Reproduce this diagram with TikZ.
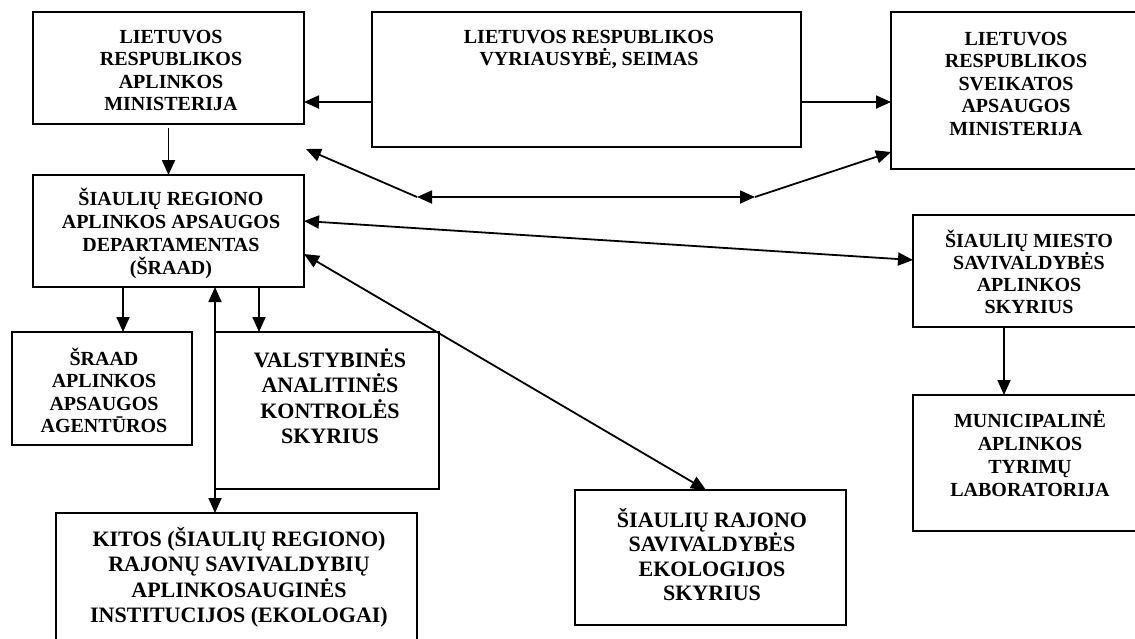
\documentclass[tikz,border=0pt]{standalone}
\usepackage{fontspec}
\setmainfont{Liberation Serif}
\usetikzlibrary{arrows.meta,calc}
\newcommand\firstA{\rule{0pt}{20pt}}
\newcommand\firstB{\rule{0pt}{22pt}}
\begin{document}
\begin{tikzpicture}[x=1pt,y=-1pt,
  box/.style={draw=black, line width=2pt, inner sep=0pt, outer sep=0pt, anchor=north west},
  txt/.style={inner sep=0pt, outer sep=0pt, align=center, anchor=north, font=\bfseries\fontsize{20}{22.5}\selectfont},
  bigtxt/.style={txt, font=\bfseries\fontsize{22}{25.5}\selectfont},
  tip/.tip={Triangle[length=15pt,width=13pt]},
  arr/.style={line width=1.8pt, -tip},
  darr/.style={line width=1.8pt, tip-tip},
]
\useasboundingbox (0,0) rectangle (1135,638);
\clip (0,0) rectangle (1135,638);

% boxes
\node[box, minimum width=271pt, minimum height=112pt] (A) at (33,12) {};
\node[box, minimum width=429pt, minimum height=135pt] (B) at (372,12) {};
\node[box, minimum width=250pt, minimum height=157pt] (C) at (891,12) {};
\node[box, minimum width=271pt, minimum height=112pt] (D) at (33,175) {};
\node[box, minimum width=180pt, minimum height=113pt] (E) at (12,332) {};
\node[box, minimum width=224pt, minimum height=157pt] (F) at (215,332) {};
\node[box, minimum width=361pt, minimum height=147pt] (G) at (56,513) {};
\node[box, minimum width=271pt, minimum height=135pt] (H) at (575,490) {};
\node[box, minimum width=232pt, minimum height=112pt] (I) at (913,215) {};
\node[box, minimum width=232pt, minimum height=136pt] (J) at (913,395) {};

% texts
\node[txt] (tA) at (171,23) {\firstA LIETUVOS\\RESPUBLIKOS\\APLINKOS\\MINISTERIJA};
\node[txt] (tB) at (589,23) {\firstA LIETUVOS RESPUBLIKOS\\VYRIAUSYBĖ, SEIMAS};
\node[txt] (tC) at (1016,25) {\firstA LIETUVOS\\RESPUBLIKOS\\SVEIKATOS\\APSAUGOS\\MINISTERIJA};
\node[txt, font=\bfseries\fontsize{20}{23}\selectfont] (tD) at (171,185) {\firstA ŠIAULIŲ REGIONO\\APLINKOS APSAUGOS\\DEPARTAMENTAS\\(ŠRAAD)};
\node[txt] (tE) at (104,345) {\firstA ŠRAAD\\APLINKOS\\APSAUGOS\\AGENTŪROS};
\node[bigtxt] (tF) at (330,345) {\firstB VALSTYBINĖS\\ANALITINĖS\\KONTROLĖS\\SKYRIUS};
\node[bigtxt] (tG) at (239,524) {\firstB KITOS (ŠIAULIŲ REGIONO)\\RAJONŲ SAVIVALDYBIŲ\\APLINKOSAUGINĖS\\INSTITUCIJOS (EKOLOGAI)};
\node[bigtxt, font=\bfseries\fontsize{22}{24.5}\selectfont] (tH) at (712,505) {\firstB ŠIAULIŲ RAJONO\\SAVIVALDYBĖS\\EKOLOGIJOS\\SKYRIUS};
\node[txt, font=\bfseries\fontsize{20}{22}\selectfont] (tI) at (1029,227) {\firstA ŠIAULIŲ MIESTO\\SAVIVALDYBĖS\\APLINKOS\\SKYRIUS};
\node[txt, font=\bfseries\fontsize{20}{23}\selectfont] (tJ) at (1030,407) {\firstA MUNICIPALINĖ\\APLINKOS\\TYRIMŲ\\LABORATORIJA};

% connectors
\draw[arr] ([yshift=45pt]B.south west) coordinate (b1) -- (b1 -| A.east);
\draw[arr] ([yshift=45pt]B.south east) coordinate (b2) -- (b2 -| C.west);
\draw[arr] ([yshift=-4pt]A.south) -- (A.south |- D.north);

\coordinate (hl) at (417,197);
\coordinate (hr) at (755,197);
\coordinate (ul) at (306,149);
\draw[darr] (hl) -- (hr);
\draw[arr] (hl) -- (ul);
\draw[arr] (hr) -- ([yshift=17pt]C.south west);

\draw[darr] ([yshift=-46pt]D.north east) -- ([yshift=-45pt]I.north west);
\draw[darr] ([yshift=-79pt]D.north east) -- ([xshift=131pt]H.north west);

\draw[arr] ([xshift=90pt]D.south west) coordinate (d1) -- (d1 |- E.north);
\draw[arr] ([xshift=226pt]D.south west) coordinate (d2) -- (d2 |- F.north);
\draw[darr] (F.north west |- D.south) -- (F.north west |- G.north);
\draw[arr] ([xshift=91pt]I.south west) coordinate (i1) -- (i1 |- J.north);
\end{tikzpicture}
\end{document}
